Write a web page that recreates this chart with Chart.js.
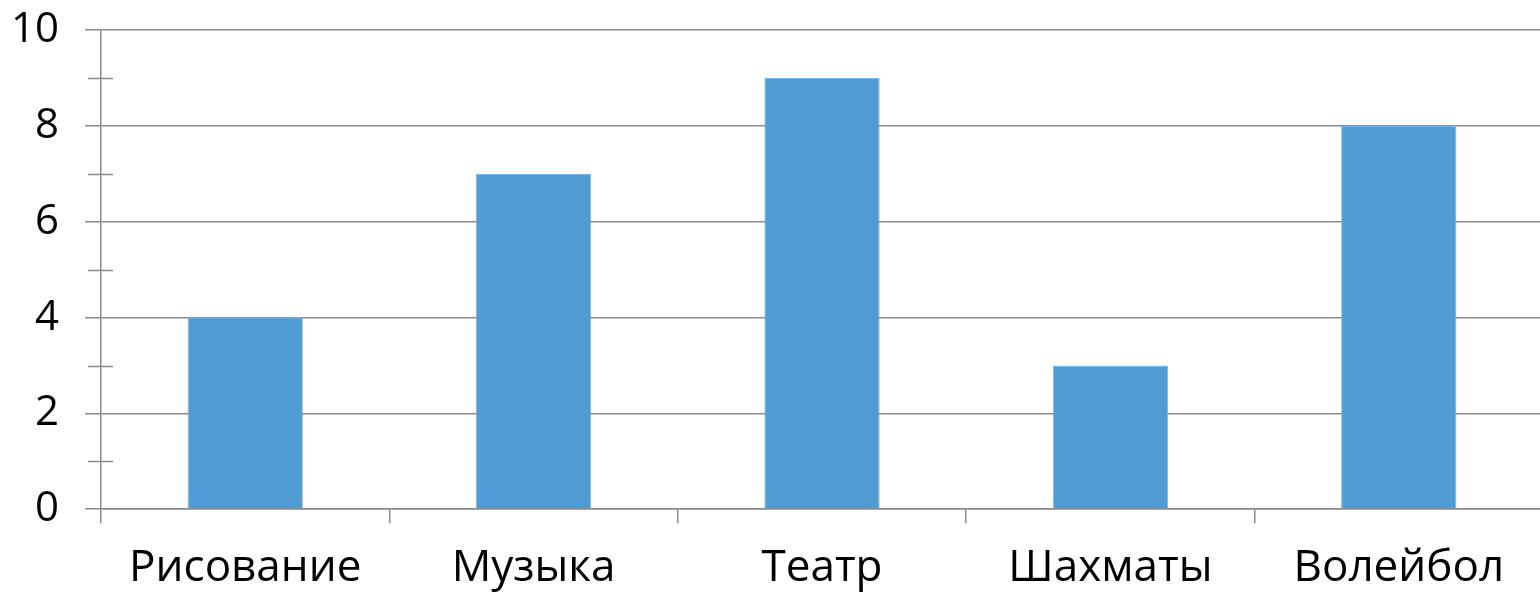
<!DOCTYPE html>
<html>
<head>
<meta charset="utf-8">
<script src="https://cdn.jsdelivr.net/npm/chart.js@4/dist/chart.umd.min.js"></script>
<style>
  html, body { margin: 0; padding: 0; background: #fff; overflow: hidden; }
  #wrap { width: 1558px; height: 635px; margin-left: -15px; margin-top: -21px; }
</style>
</head>
<body>
<div id="wrap"><canvas id="myChart"></canvas></div>
<script>
var categories = ['Рисование', 'Музыка', 'Театр', 'Шахматы', 'Волейбол'];
var values = [4, 7, 9, 3, 8];
var yTickLabels = [0, 2, 4, 6, 8, 10];

var gridColor = '#8a8a8a';

// small minor tick marks at odd values, reaching into the plot area
var minorTicks = {
    id: 'minorTicks',
    afterDatasetsDraw: function(chart) {
        var y = chart.scales.y;
        var ctx = chart.ctx;
        ctx.save();
        ctx.strokeStyle = gridColor;
        ctx.lineWidth = 1.5;
        for (var v = 1; v < 10; v += 2) {
            var py = Math.round(y.getPixelForValue(v)) + 0.5;
            ctx.beginPath();
            ctx.moveTo(y.right - 13, py);
            ctx.lineTo(y.right + 12, py);
            ctx.stroke();
        }
        ctx.restore();
    }
};

new Chart('myChart', {
    type: 'bar',
    data: {
        labels: categories,
        datasets: [{
            data: values,
            backgroundColor: '#4f9bd3',
            borderColor: '#87b6de',
            borderWidth: 1,
            barPercentage: 0.4,
            categoryPercentage: 1.0
        }]
    },
    plugins: [minorTicks],
    options: {
        responsive: true,
        maintainAspectRatio: false,
        animation: false,
        layout: { padding: 0 },
        plugins: {
            legend: { display: false },
            tooltip: { enabled: false }
        },
        scales: {
            x: {
                grid: {
                    offset: true,
                    drawOnChartArea: false,
                    color: gridColor,
                    lineWidth: 1.5,
                    tickLength: 14
                },
                border: { color: gridColor, width: 1.5 },
                ticks: {
                    color: '#000',
                    font: { family: 'Open Sans', size: 44, weight: 500 },
                    padding: 19,
                    maxRotation: 0
                }
            },
            y: {
                min: 0,
                max: 10,
                afterBuildTicks: function(scale) {
                    scale.ticks = yTickLabels.map(function(v) { return { value: v }; });
                },
                grid: {
                    color: gridColor,
                    lineWidth: 1.5,
                    tickLength: 16
                },
                border: { color: gridColor, width: 1.5 },
                ticks: {
                    color: '#000',
                    font: { family: 'Open Sans', size: 42, weight: 500 },
                    padding: 26
                }
            }
        }
    }
});
</script>
</body>
</html>
